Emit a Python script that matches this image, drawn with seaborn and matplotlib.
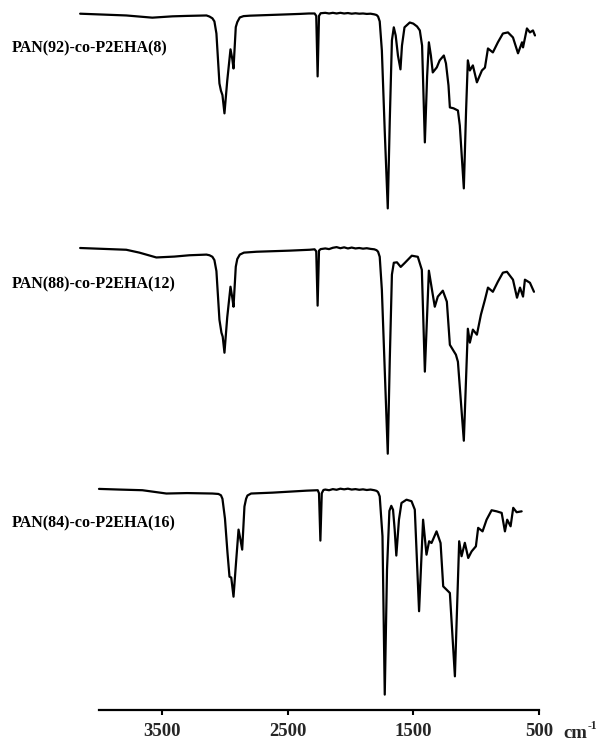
import matplotlib
matplotlib.use("Agg")
import matplotlib.pyplot as plt
import seaborn as sns
import pandas as pd

sns.set_theme(style="white")
plt.rcParams['font.family'] = ['Liberation Serif', 'DejaVu Serif']

labels = ["PAN(92)-co-P2EHA(8)", "PAN(88)-co-P2EHA(12)", "PAN(84)-co-P2EHA(16)"]
offsets = [218.0, 111.5, 2.0]
tick_values = [3500, 2500, 1500, 500]

baseline_noise_wn = [2200, 2170, 2140, 2110, 2080, 2050, 2020, 1990, 1960, 1930, 1900, 1870, 1840, 1810, 1792, 1780]

wn1 = [4150, 3783, 3576, 3416, 3300, 3145, 3121, 3098, 3082, 3066, 3042, 3030, 3018, 3002, 2980, 2954, 2940, 2930,
       2912, 2900, 2880, 2850, 2800, 2650, 2500, 2404, 2330, 2285, 2272, 2261, 2250, 2237] + baseline_noise_wn + \
      [1767, 1750, 1727, 1703, 1687, 1670, 1655, 1640, 1622, 1602, 1590, 1570, 1528, 1500, 1470, 1448,
       1430, 1408, 1390, 1376, 1360, 1345, 1313, 1290, 1257, 1240, 1220, 1209, 1180, 1145, 1130, 1098,
       1080, 1066, 1050, 1026, 994, 954, 930, 906, 867, 827, 787, 747, 707, 667, 635, 627, 596, 572, 548, 532]
t1 = [98.5, 97.7, 96.7, 97.3, 97.5, 97.7, 97.2, 96.4, 95.0, 89.5, 66.8, 63.5, 61.5, 53.2, 68.0, 82.3, 78.0, 73.6,
      92.4, 94.7, 96.8, 97.4, 97.6, 97.9, 98.2, 98.4, 98.6, 98.6, 97.5, 70.0, 97.5, 98.7,
      98.9, 98.6, 98.9, 98.6, 98.9, 98.6, 98.8, 98.5, 98.7, 98.5, 98.6, 98.4, 98.5, 98.2, 97.9, 97.2,
      95.0, 81.8, 45.0, 10.0, 50.0, 86.4, 92.3, 88.6, 79.5, 73.2, 84.0, 92.3, 94.5, 94.0, 92.7, 90.9,
      84.0, 40.0, 70.0, 85.5, 79.5, 71.8, 74.1, 77.3, 79.5, 75.9, 65.9, 55.9, 55.5, 54.5, 47.7, 19.1,
      54.5, 77.3, 72.7, 75.0, 67.3, 72.7, 74.0, 82.7, 80.9, 85.5, 89.5, 90.0, 87.7, 80.5, 85.5, 83.2,
      91.8, 90.0, 90.9, 88.6]

wn2 = [4150, 3783, 3679, 3544, 3400, 3281, 3145, 3121, 3098, 3082, 3066, 3042, 3026, 3016, 3002, 2980, 2954, 2940,
       2930, 2912, 2900, 2880, 2847, 2747, 2484, 2325, 2285, 2272, 2261, 2250, 2237] + baseline_noise_wn + \
      [1767, 1750, 1727, 1703, 1687, 1670, 1655, 1630, 1600, 1568, 1512, 1464, 1432, 1408, 1376, 1345,
       1329, 1305, 1265, 1233, 1209, 1161, 1145, 1098, 1066, 1050, 1026, 994, 962, 930, 906, 867, 827,
       787, 755, 707, 675, 651, 627, 612, 572, 540]
t2 = [98.5, 97.7, 96.4, 94.2, 94.6, 95.2, 95.5, 95.2, 94.5, 93.0, 88.0, 65.9, 60.0, 58.2, 50.9, 67.0, 80.9, 76.0,
      71.8, 90.0, 93.5, 95.5, 96.4, 96.8, 97.3, 97.7, 97.9, 97.0, 72.3, 97.3, 98.0,
      98.3, 98.0, 98.6, 98.9, 98.4, 98.8, 98.3, 98.7, 98.3, 98.5, 98.2, 98.4, 98.1, 97.9, 97.5, 96.8,
      94.5, 79.5, 43.0, 5.0, 47.7, 86.4, 91.8, 92.0, 89.9, 91.7, 95.0, 94.5, 88.6, 42.3, 88.2, 77.3,
      71.8, 76.4, 79.1, 74.1, 54.5, 50.0, 46.8, 10.9, 61.8, 55.5, 61.4, 59.1, 68.2, 75.0, 80.5, 78.6,
      83.2, 87.3, 87.7, 84.1, 75.9, 80.5, 76.4, 84.1, 82.7, 78.6]

wn3 = [4000, 3839, 3655, 3464, 3300, 3098, 3050, 3030, 3018, 2998, 2978, 2962, 2948, 2930, 2910, 2890, 2875, 2861,
       2843, 2830, 2819, 2790, 2619, 2349, 2260, 2250, 2239, 2228, 2215] + baseline_noise_wn + \
      [1767, 1745, 1727, 1709, 1690, 1675, 1661, 1648, 1635, 1614, 1594, 1554, 1514, 1488, 1454, 1422, 1395,
       1374, 1355, 1315, 1283, 1262, 1209, 1169, 1135, 1116, 1090, 1063, 1036, 1002, 984, 949, 917,
       877, 837, 797, 771, 753, 726, 705, 678, 638]
t3 = [98.5, 98.2, 97.9, 96.4, 96.6, 96.4, 96.2, 95.6, 94.0, 85.0, 69.5, 58.6, 58.2, 49.5, 65.0, 80.0, 75.5, 70.9,
      90.5, 94.0, 95.5, 96.4, 96.8, 97.7, 97.9, 96.5, 75.0, 96.5, 98.0,
      98.2, 97.9, 98.4, 98.1, 98.6, 98.3, 98.6, 98.2, 98.4, 98.1, 98.3, 98.0, 98.2, 97.9, 97.6, 97.0,
      95.1, 77.0, 5.0, 61.8, 88.5, 90.8, 89.0, 80.0, 68.2, 84.5, 92.1, 93.6, 92.9, 89.1, 42.9, 84.5, 68.6,
      74.7, 73.9, 79.2, 73.9, 54.2, 51.2, 13.3, 74.7, 67.9, 74.0, 67.1, 70.1, 72.4, 80.8, 79.2, 84.5,
      88.8, 88.3, 87.6, 79.2, 84.5, 81.5, 89.9, 87.9, 88.3]

frames = []
for lab, off, wn, t in zip(labels, offsets, [wn1, wn2, wn3], [t1, t2, t3]):
    frames.append(pd.DataFrame({"wavenumber": wn, "T": [v + off for v in t], "sample": lab}))
df = pd.concat(frames, ignore_index=True)

fig = plt.figure(figsize=(5.99, 7.40), dpi=100)
ax = fig.add_axes([99 / 599, 30 / 740, 440 / 599, 710 / 740])
sns.lineplot(data=df, x="wavenumber", y="T", units="sample", estimator=None, sort=False,
             color="black", linewidth=1.6, ax=ax, legend=False)
for line in ax.get_lines():
    line.set_clip_on(False)
    line.set_solid_joinstyle("round")

ax.set_xlim(4000, 500)
ax.set_ylim(0, 710 / 2.2)
ax.set_xlabel("")
ax.set_ylabel("")
ax.set_yticks([])
ax.set_xticks(tick_values)
ax.set_xticklabels([str(v) for v in tick_values], fontsize=13.5, fontweight="bold")
for s in ["top", "right", "left"]:
    ax.spines[s].set_visible(False)
ax.spines["bottom"].set_color("black")
ax.spines["bottom"].set_linewidth(1.6)
ax.spines["bottom"].set_bounds(4000, 500)
ax.tick_params(axis="x", direction="out", length=3.5, width=1.5, color="black", pad=6, bottom=True)
ax.patch.set_alpha(0)

label_y = [48, 284, 523]
for lab, yy in zip(labels, label_y):
    fig.text(12 / 599, 1 - yy / 740, lab, fontsize=11.5, fontweight="bold", va="center", ha="left",
             color="black")

fig.text(563 / 599, 1 - 733 / 740, "cm", fontsize=13.5, fontweight="bold", va="center", ha="left")
fig.text(588 / 599, 1 - 726 / 740, "-1", fontsize=8.5, fontweight="bold", va="center", ha="left")

fig.savefig("out.png", dpi=100)
